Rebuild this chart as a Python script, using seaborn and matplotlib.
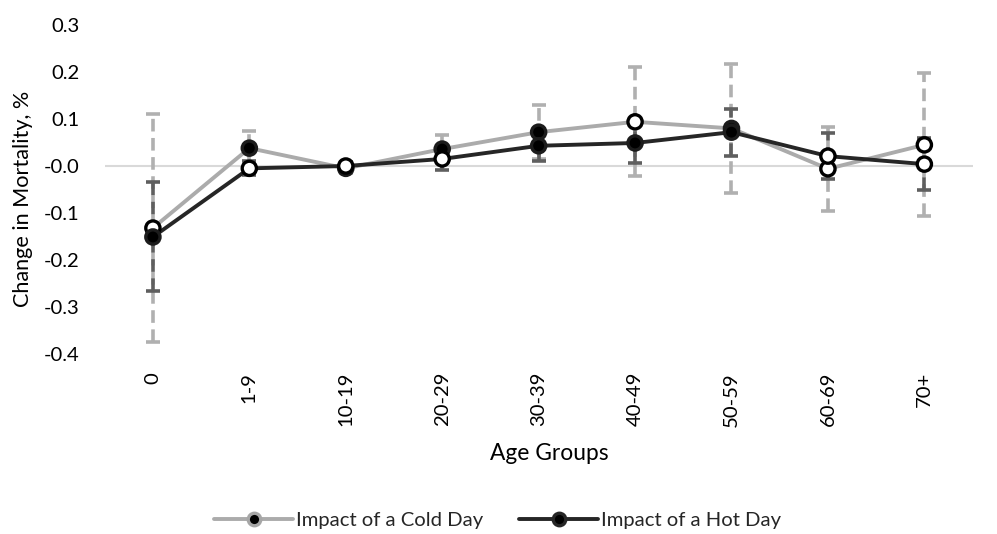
import numpy as np
import pandas as pd
import matplotlib
matplotlib.use("Agg")
import matplotlib.pyplot as plt
from matplotlib.lines import Line2D
import seaborn as sns

age_groups = ["0", "1-9", "10-19", "20-29", "30-39", "40-49", "50-59", "60-69", "70+"]

cold_values = [-0.132, 0.038, -0.005, 0.036, 0.072, 0.094, 0.080, -0.006, 0.045]
cold_errors = [0.242, 0.037, 0.010, 0.030, 0.058, 0.116, 0.138, 0.090, 0.152]
cold_filled = [False, True, True, True, True, False, True, False, False]

hot_values = [-0.151, -0.005, 0.000, 0.015, 0.043, 0.049, 0.072, 0.021, 0.004]
hot_errors = [0.116, 0.015, 0.008, 0.024, 0.032, 0.042, 0.050, 0.049, 0.055]
hot_filled = [True, False, False, False, True, True, True, False, False]

series_names = ["Impact of a Cold Day", "Impact of a Hot Day"]
line_colors = ["#ababab", "#262626"]
err_colors = ["#b0b0b0", "#5f5f5f"]

sns.set_theme(style="white")
plt.rcParams["font.family"] = ["Lato", "DejaVu Sans"]

fig = plt.figure(figsize=(9.97, 5.34), dpi=100)
ax = fig.add_axes([0.105, 1 - 354 / 534, 0.8705, (354 - 25) / 534])

x = np.arange(len(age_groups))
df = pd.DataFrame({
    "pos": np.concatenate([x, x]),
    "value": cold_values + hot_values,
    "series": [series_names[0]] * len(x) + [series_names[1]] * len(x),
})

ax.axhline(0, color="#d9d9d9", lw=1.5, zorder=0)

# confidence intervals: cold first, hot drawn over it
for vals, errs, col in [(cold_values, cold_errors, err_colors[0]),
                        (hot_values, hot_errors, err_colors[1])]:
    eb = ax.errorbar(x, vals, yerr=errs, fmt="none", ecolor=col,
                     elinewidth=2.6, capsize=5, capthick=2.6, zorder=2)
    for lc in eb[2]:
        lc.set_linestyle((0, (3.5, 1.8)))

sns.lineplot(data=df, x="pos", y="value", hue="series",
             palette=dict(zip(series_names, line_colors)),
             linewidth=2.8, legend=False, ax=ax, zorder=3, sort=False)

for vals, filled, z in [(cold_values, cold_filled, 4), (hot_values, hot_filled, 5)]:
    fills = ["black" if f else "white" for f in filled]
    edges = ["#1c1c1c" if f else "black" for f in filled]
    ax.scatter(x, vals, s=105, c=fills, edgecolors=edges, linewidths=2.4, zorder=z)

ax.set_xlim(-0.5, len(age_groups) - 0.5)
ax.set_ylim(-0.4, 0.3)
ax.set_yticks(np.round(np.arange(-0.4, 0.31, 0.1), 1))
ax.yaxis.set_major_formatter(matplotlib.ticker.FormatStrFormatter("%.1f"))
ax.set_xticks(x)
ax.set_xticklabels(age_groups, rotation=90, va="top", ha="center")
ax.tick_params(axis="y", length=0, pad=18, labelsize=14.6, labelcolor="black")
ax.tick_params(axis="x", length=0, pad=13, labelsize=14.6, labelcolor="black")
for s in ax.spines.values():
    s.set_visible(False)
ax.grid(False)

ax.set_xlabel("Age Groups", fontsize=16.4, color="black")
ax.xaxis.set_label_coords(0.512, -0.27)
ax.set_ylabel("Change in Mortality, %", fontsize=15.6, color="black")
ax.yaxis.set_label_coords(-0.083, 0.47)

handles = [
    Line2D([], [], color=line_colors[0], lw=2.8, marker="o", markersize=9,
           markerfacecolor="black", markeredgecolor="#a6a6a6", markeredgewidth=2.4),
    Line2D([], [], color=line_colors[1], lw=2.8, marker="o", markersize=9,
           markerfacecolor="black", markeredgecolor="#262626", markeredgewidth=2.4),
]
fig.legend(handles, series_names, loc="center", bbox_to_anchor=(0.499, 1 - 520 / 534),
           ncol=2, frameon=False, fontsize=14.6, handlelength=3.9, handletextpad=0.12,
           columnspacing=1.8)

fig.savefig("out.png", dpi=100)
